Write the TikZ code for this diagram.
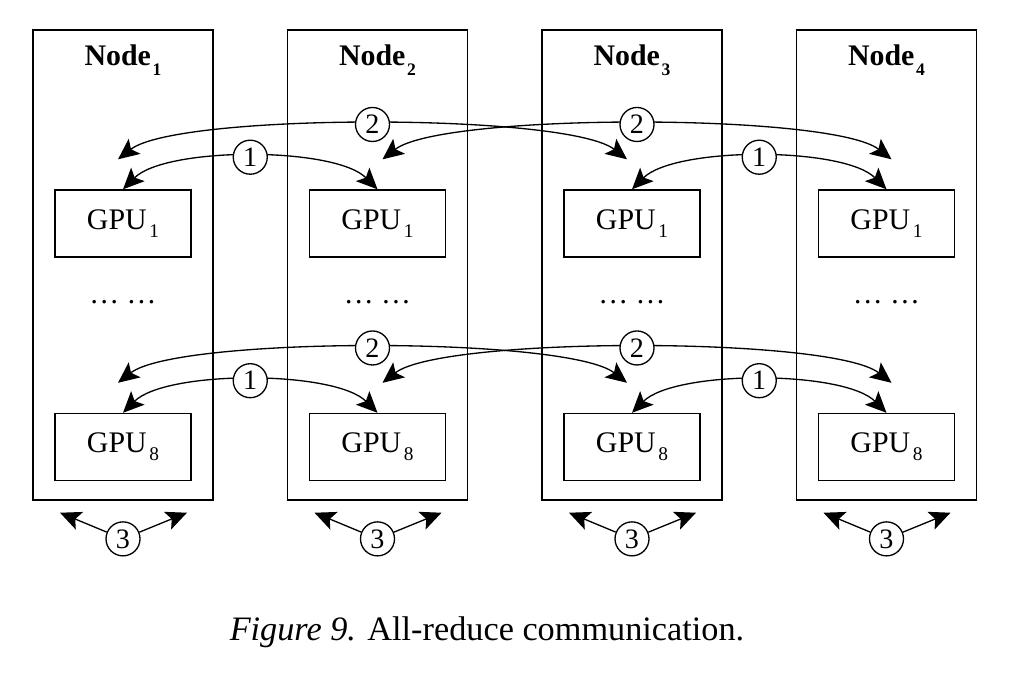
\documentclass[tikz,border=0pt]{standalone}
\usepackage{fontspec}
\setmainfont{Liberation Serif}
\usepackage{tikz}
\usetikzlibrary{arrows.meta, positioning, calc}
\tikzstyle{arrow} = [line width=0.75pt,->,>={Stealth[length=4.2mm,width=3.8mm,inset=0.9mm]}]
\tikzstyle{biarrow} = [arrow,<->]
\tikzstyle{server} = [rectangle, minimum width=3.6cm, minimum height=9.4cm, draw=black, line width=0.8pt]
\tikzstyle{gpu} = [rectangle, minimum width=2.72cm, minimum height=1.34cm, draw=black, line width=0.8pt, font=\fontsize{17}{20}\selectfont]
\tikzstyle{num} = [circle, draw=black, line width=0.75pt, fill=white, minimum size=0.68cm, inner sep=0pt, font=\fontsize{16}{16}\selectfont]
\newcommand\gsub[1]{\kern1.5pt\raisebox{-4.5pt}{\fontsize{11}{11}\selectfont #1}}
\newcommand\nsub[1]{\kern1pt\raisebox{-5.5pt}{\fontsize{10}{10}\selectfont\bfseries #1}}
\tikzset{
	title/.style = {inner sep=0pt, font=\fontsize{17}{20}\selectfont\bfseries},
	dots/.style = {inner sep=0pt, font=\fontsize{17}{20}\selectfont}
}

\begin{document}
\begin{tikzpicture}
\useasboundingbox (0,0) rectangle (20.52,-13.44);
%----------------------------------------------------------------------------
% Server boxes
\node (nodeA) [server] at (2.46,-5.3) {};
\node (nodeB) [server] at (7.55,-5.3) {};
\node (nodeC) [server] at (12.64,-5.3) {};
\node (nodeD) [server] at (17.73,-5.3) {};

\node (titleA) [title, below=0.3cm of nodeA.north] {Node\nsub{1}};
\node (titleB) [title, below=0.3cm of nodeB.north] {Node\nsub{2}};
\node (titleC) [title, below=0.3cm of nodeC.north] {Node\nsub{3}};
\node (titleD) [title, below=0.3cm of nodeD.north] {Node\nsub{4}};

% GPUs
\node (gpuA1) [gpu] at ($(nodeA)+(0,0.83)$) {GPU\gsub{1}};
\node (gpuB1) [gpu] at ($(nodeB)+(0,0.83)$) {GPU\gsub{1}};
\node (gpuC1) [gpu] at ($(nodeC)+(0,0.83)$) {GPU\gsub{1}};
\node (gpuD1) [gpu] at ($(nodeD)+(0,0.83)$) {GPU\gsub{1}};

\node (dotsA) [dots] at ($(nodeA)+(0,-0.74)$) {\ldots\ \ldots};
\node (dotsB) [dots] at ($(nodeB)+(0,-0.74)$) {\ldots\ \ldots};
\node (dotsC) [dots] at ($(nodeC)+(0,-0.74)$) {\ldots\ \ldots};
\node (dotsD) [dots] at ($(nodeD)+(0,-0.74)$) {\ldots\ \ldots};

\node (gpuA8) [gpu] at ($(nodeA)+(0,-3.64)$) {GPU\gsub{8}};
\node (gpuB8) [gpu] at ($(nodeB)+(0,-3.64)$) {GPU\gsub{8}};
\node (gpuC8) [gpu] at ($(nodeC)+(0,-3.64)$) {GPU\gsub{8}};
\node (gpuD8) [gpu] at ($(nodeD)+(0,-3.64)$) {GPU\gsub{8}};

%----------------------------------------------------------------------------
% End points of step 2
\coordinate (upA1) at ($(gpuA1.north)+(-0.1,0.6)$);
\coordinate (upC1) at ($(gpuC1.north)+(-0.1,0.6)$);
\coordinate (upB1) at ($(gpuB1.north)+(0.1,0.6)$);
\coordinate (upD1) at ($(gpuD1.north)+(0.1,0.6)$);
\coordinate (upA8) at ($(gpuA8.north)+(-0.1,0.6)$);
\coordinate (upC8) at ($(gpuC8.north)+(-0.1,0.6)$);
\coordinate (upB8) at ($(gpuB8.north)+(0.1,0.6)$);
\coordinate (upD8) at ($(gpuD8.north)+(0.1,0.6)$);

% Step 2 lines
\draw [biarrow] (upA1) to[out=38,in=142,looseness=0.38] node[num] (twoAC1) {2} (upC1);
\draw [biarrow] (upB1) to[out=38,in=142,looseness=0.38] node[num] (twoBD1) {2} (upD1);
\draw [biarrow] (upA8) to[out=38,in=142,looseness=0.38] node[num] (twoAC8) {2} (upC8);
\draw [biarrow] (upB8) to[out=38,in=142,looseness=0.38] node[num] (twoBD8) {2} (upD8);

% Step 1 lines
\draw [biarrow] (gpuA1.north) to[out=45,in=135,looseness=0.61] node[num] (oneAB1) {1} (gpuB1.north);
\draw [biarrow] (gpuC1.north) to[out=45,in=135,looseness=0.61] node[num] (oneCD1) {1} (gpuD1.north);
\draw [biarrow] (gpuA8.north) to[out=45,in=135,looseness=0.61] node[num] (oneAB8) {1} (gpuB8.north);
\draw [biarrow] (gpuC8.north) to[out=45,in=135,looseness=0.61] node[num] (oneCD8) {1} (gpuD8.north);

%----------------------------------------------------------------------------
% Step 3 below each server
\node (threeA) [num, below=0.41cm of nodeA] {3};
\node (threeB) [num, below=0.41cm of nodeB] {3};
\node (threeC) [num, below=0.41cm of nodeC] {3};
\node (threeD) [num, below=0.41cm of nodeD] {3};

\coordinate (outAl) at ($(nodeA.south)+(-1.26,-0.24)$);
\coordinate (outAr) at ($(nodeA.south)+(1.28,-0.24)$);
\coordinate (outBl) at ($(nodeB.south)+(-1.26,-0.24)$);
\coordinate (outBr) at ($(nodeB.south)+(1.28,-0.24)$);
\coordinate (outCl) at ($(nodeC.south)+(-1.26,-0.24)$);
\coordinate (outCr) at ($(nodeC.south)+(1.28,-0.24)$);
\coordinate (outDl) at ($(nodeD.south)+(-1.26,-0.24)$);
\coordinate (outDr) at ($(nodeD.south)+(1.28,-0.24)$);

\draw [arrow] (threeA) -- (outAl);
\draw [arrow] (threeA) -- (outAr);
\draw [arrow] (threeB) -- (outBl);
\draw [arrow] (threeB) -- (outBr);
\draw [arrow] (threeC) -- (outCl);
\draw [arrow] (threeC) -- (outCr);
\draw [arrow] (threeD) -- (outDl);
\draw [arrow] (threeD) -- (outDr);

%----------------------------------------------------------------------------
% Caption
\node (caption) at (9.74,-12.64) {\fontsize{19.5}{22}\selectfont\textit{Figure 9.} All-reduce communication.};

\end{tikzpicture}
\end{document}
